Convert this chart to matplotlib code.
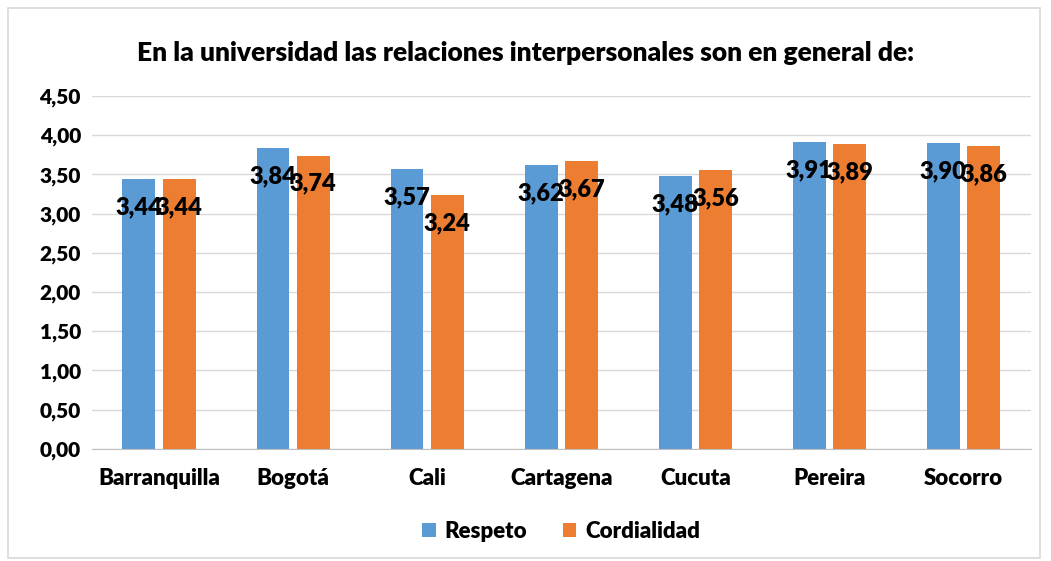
import matplotlib.pyplot as plt
import numpy as np
from matplotlib.patches import Rectangle

categories = ["Barranquilla", "Bogotá", "Cali", "Cartagena", "Cucuta", "Pereira", "Socorro"]
respeto = [3.44, 3.84, 3.57, 3.62, 3.48, 3.91, 3.90]
cordialidad = [3.44, 3.74, 3.24, 3.67, 3.56, 3.89, 3.86]
series_names = ["Respeto", "Cordialidad"]
yticks = [0.0, 0.5, 1.0, 1.5, 2.0, 2.5, 3.0, 3.5, 4.0, 4.5]

plt.rcParams["font.family"] = ["Lato", "DejaVu Sans"]
W = "heavy"

blue = "#5B9BD5"
orange = "#ED7D31"

fig = plt.figure(figsize=(10.51, 5.61), dpi=100)
ax = fig.add_axes([0.0875, 0.2, 0.893, 0.629])

# chart border
fig.patches.append(Rectangle((0.008, 0.006), 0.982, 0.98, transform=fig.transFigure,
                             fill=False, edgecolor="#D9D9D9", lw=1.2))

x = np.arange(len(categories))
w = 0.245
off = 0.15
b1 = ax.bar(x - off, respeto, w, color=blue, label=series_names[0], zorder=2)
b2 = ax.bar(x + off, cordialidad, w, color=orange, label=series_names[1], zorder=2)

def fmt(v):
    return f"{v:.2f}".replace(".", ",")

for bars, vals in ((b1, respeto), (b2, cordialidad)):
    for bar, v in zip(bars, vals):
        ax.text(bar.get_x() + bar.get_width() / 2, v - 0.36, fmt(v), ha="center", va="center",
                fontsize=17, fontweight=W, color="black", zorder=3)

ax.set_xlim(-0.5, len(categories) - 0.5)
ax.set_ylim(0, 4.5)
ax.set_yticks(yticks)
ax.set_yticklabels([fmt(v) for v in yticks], fontsize=15, fontweight=W)
ax.set_xticks(x)
ax.set_xticklabels(categories, fontsize=16, fontweight=W)
ax.tick_params(axis="y", length=0, pad=8)
ax.tick_params(axis="x", length=0, pad=14)
ax.grid(axis="y", color="#D9D9D9", lw=1, zorder=0)
for s in ["top", "right", "left"]:
    ax.spines[s].set_visible(False)
ax.spines["bottom"].set_color("#BFBFBF")

fig.text(0.5, 0.905, "En la universidad las relaciones interpersonales son en general de:",
         ha="center", va="center", fontsize=19, fontweight=W)

ax.legend(loc="center", bbox_to_anchor=(0.5, -0.235), ncol=2, frameon=False,
          prop={"size": 16, "weight": W}, handlelength=0.6, handleheight=0.6,
          columnspacing=1.6, handletextpad=0.4)

fig.savefig("out.png", dpi=100)
